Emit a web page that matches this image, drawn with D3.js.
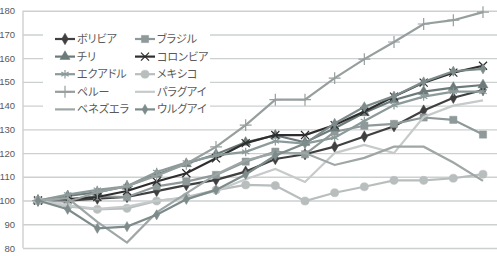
<!DOCTYPE html>
<meta charset="UTF-8">
<head>
    <title>一人当たりGDP指数</title>
</head>
<style>
    body { margin: 0; background: #fff; }
    svg { display: block; }
    .tick text { font-family: "Liberation Sans", Arial, sans-serif; font-size: 9.5px; fill: #595959; }
    .legend text { font-family: "Noto Sans CJK JP", sans-serif; font-size: 11px; fill: #595959; font-feature-settings: "palt"; }
</style>
<body>
<div id="chart"></div>
<script src="https://d3js.org/d3.v7.min.js"></script>
<script>
    // 2000-2015, 2000=100
    var years = d3.range(2000, 2016);
    var names = ["ボリビア", "ブラジル", "チリ", "コロンビア", "エクアドル", "メキシコ", "ペルー", "パラグアイ", "ベネズエラ", "ウルグアイ"];
    var bolivia   = [100, 100, 100.8, 101.5, 104, 106.5, 108.7, 112.2, 117.5, 119.5, 122.7, 127, 131.3, 137.9, 143.3, 146.6];
    var brazil    = [100, 100.5, 101.8, 101.5, 106, 108, 110.8, 116.4, 120.6, 119.5, 129, 131.5, 132.3, 135, 134, 127.8];
    var chile     = [100, 102, 103.5, 106, 111, 115.5, 119.5, 124.5, 127.5, 124.5, 130.5, 137, 142.4, 145.9, 147.6, 148.7];
    var colombia  = [100, 100.5, 101.5, 104, 108, 111.5, 117.8, 124.2, 127.6, 127.6, 131.8, 137.5, 143.8, 149.7, 153.9, 156.8];
    var ecuador   = [100, 102.5, 104.5, 106, 112, 116, 119, 120.5, 125, 124, 126.5, 133.5, 140.2, 143.8, 145.9, 145.9];
    var mexico    = [100, 97.5, 96.3, 96.7, 99.8, 101.5, 104.4, 106.6, 106.3, 99.8, 103.3, 105.8, 108.5, 108.5, 109.4, 111.1];
    var peru      = [100, 99.5, 103.5, 106, 110.5, 115.5, 122.6, 131.8, 142.5, 142.5, 151.6, 159.6, 166.8, 174.4, 176, 179.4];
    var paraguay  = [100, 98, 96.5, 97.5, 100, 101, 104, 109, 113.3, 107.8, 120, 123.4, 120, 135.2, 140, 142.2];
    var venezuela = [100, 101, 91, 82.3, 95, 103, 111, 117, 120, 120, 115, 118, 122.7, 122.7, 116, 108.3];
    var uruguay   = [100, 96.3, 88.3, 89, 94, 100.5, 104.5, 111, 119, 124, 132.5, 139.5, 144, 150, 154.5, 155.5];
    var yTicks = d3.range(80, 181, 10);

    var values = [bolivia, brazil, chile, colombia, ecuador, mexico, peru, paraguay, venezuela, uruguay];
    var colors = ["#404040", "#8f9999", "#6d7a7a", "#2e2e2e", "#8c9a9a", "#b8bdbd", "#979e9e", "#c6caca", "#9ea6a6", "#7d8b8b"];
    var symbols = [d3.symbolDiamond, d3.symbolSquare, d3.symbolTriangle, d3.symbolTimes, d3.symbolAsterisk, d3.symbolCircle, d3.symbolPlus, null, null, d3.symbolDiamond];
    var sizes = [38, 52, 44, 44, 50, 52, 48, 0, 0, 30];
    var strokeSym = [false, false, false, true, true, false, true, false, false, false];

    var w = 497, h = 256;
    var svg = d3.select("#chart").append("svg").attr("width", w).attr("height", h);

    var x = d3.scalePoint().domain(years).range([38, 483]);
    var y = d3.scaleLinear().domain([80, 180]).range([248, 10.7]);

    // 目盛り線
    svg.append("g")
        .attr("transform", "translate(23,0)")
        .call(d3.axisLeft(y).tickValues(yTicks).tickSize(-(w - 23)).tickFormat(""))
        .call(function (g) { g.select(".domain").remove(); })
        .selectAll("line").attr("stroke", "#cdd0d0").attr("stroke-width", 1.4);
    svg.append("line").attr("x1", 23).attr("x2", 23).attr("y1", y(180)).attr("y2", y(80))
        .attr("stroke", "#cdd0d0").attr("stroke-width", 1.4);

    // Y軸ラベル
    svg.append("g")
        .attr("transform", "translate(15,0)")
        .call(d3.axisLeft(y).tickValues(yTicks).tickSize(0).tickPadding(0))
        .call(function (g) { g.select(".domain").remove(); });

    var line = d3.line().x(function (d, i) { return x(years[i]); }).y(function (d) { return y(d); });

    values.forEach(function (vals, k) {
        var g = svg.append("g");
        g.append("path").datum(vals).attr("d", line)
            .attr("fill", "none").attr("stroke", colors[k]).attr("stroke-width", 2.2);
        if (symbols[k]) {
            g.selectAll("path.m").data(vals).enter().append("path").attr("class", "m")
                .attr("transform", function (d, i) { return "translate(" + x(years[i]) + "," + y(d) + ")"; })
                .attr("d", d3.symbol().type(symbols[k]).size(sizes[k]))
                .attr("fill", strokeSym[k] ? "none" : colors[k])
                .attr("stroke", colors[k]).attr("stroke-width", strokeSym[k] ? 1.2 : 0.5);
        }
    });

    // 凡例
    var legend = svg.append("g").attr("class", "legend");
    legend.append("rect").attr("x", 43).attr("y", 25).attr("width", 167).attr("height", 96).attr("fill", "#fff");
    names.forEach(function (name, k) {
        var lx = k % 2 === 0 ? 55 : 135;
        var ly = 39 + Math.floor(k / 2) * 17.6;
        legend.append("line").attr("x1", lx).attr("x2", lx + 20).attr("y1", ly).attr("y2", ly)
            .attr("stroke", colors[k]).attr("stroke-width", 2.2);
        if (symbols[k]) {
            legend.append("path").attr("transform", "translate(" + (lx + 10) + "," + ly + ")")
                .attr("d", d3.symbol().type(symbols[k]).size(sizes[k]))
                .attr("fill", strokeSym[k] ? "none" : colors[k])
                .attr("stroke", colors[k]).attr("stroke-width", strokeSym[k] ? 1.2 : 0.5);
        }
        legend.append("text").attr("x", lx + 22).attr("y", ly).attr("dy", "0.36em").text(name);
    });
</script>
</body>
